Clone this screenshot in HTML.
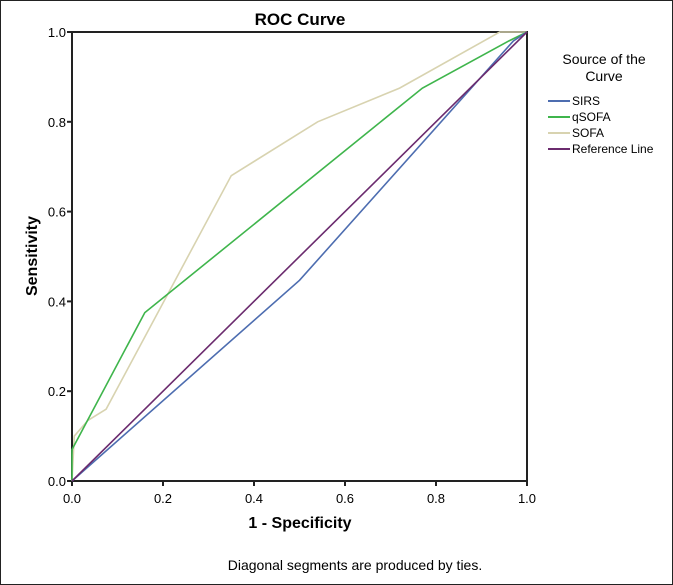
<!DOCTYPE html>
<html><head><meta charset="utf-8"><style>
body{margin:0;background:#fff}
svg{display:block;font-family:"Liberation Sans",sans-serif}
</style></head><body>
<svg width="673" height="585" viewBox="0 0 673 585">
<rect x="0.5" y="0.5" width="672" height="584" fill="#fff" stroke="#222"/>
<text x="300" y="25" font-size="17" font-weight="bold" text-anchor="middle">ROC Curve</text>
<g id="plot"></g>
<text x="300" y="528" font-size="16" font-weight="bold" text-anchor="middle">1 - Specificity</text>
<text transform="translate(37,256) rotate(-90)" font-size="16" font-weight="bold" text-anchor="middle">Sensitivity</text>
<text x="355" y="570" font-size="14" text-anchor="middle">Diagonal segments are produced by ties.</text>
<g>
<text x="604" y="64" font-size="14" text-anchor="middle">Source of the</text>
<text x="604" y="81" font-size="14" text-anchor="middle">Curve</text>
<g id="legend"></g>
</g>
</svg>
<script>
const xTicks=[0,0.2,0.4,0.6,0.8,1.0];
const yTicks=[0,0.2,0.4,0.6,0.8,1.0];
const seriesNames=["SIRS","qSOFA","SOFA","Reference Line"];
const seriesColors=["#4d6db0","#3fb54c","#d8d3b0","#6b2b6e"];
const sirsX=[0,0.5,0.97,1];
const sirsY=[0,0.447,0.98,1];
const qsofaX=[0,0,0.16,0.77,0.96,1];
const qsofaY=[0,0.07,0.375,0.875,0.98,1];
const sofaX=[0,0.005,0.035,0.075,0.35,0.54,0.72,0.94,1];
const sofaY=[0,0.1,0.135,0.16,0.68,0.80,0.875,1.0,1];
const refX=[0,1];
const refY=[0,1];
const X0=72,X1=527,Y0=481,Y1=32;
const sx=v=>X0+v*(X1-X0), sy=v=>Y0-v*(Y0-Y1);
const NS="http://www.w3.org/2000/svg";
const plot=document.getElementById('plot');
function mk(tag,attrs,parent){const e=document.createElementNS(NS,tag);for(const k in attrs)e.setAttribute(k,attrs[k]);parent.appendChild(e);return e;}
const box=mk('rect',{x:X0,y:Y1,width:X1-X0,height:Y0-Y1,fill:'#fff',stroke:'#222','stroke-width':2},plot);


xTicks.forEach(t=>{
 const l=mk('line',{x1:sx(t),x2:sx(t),y1:Y0,y2:Y0+5,stroke:'#222','stroke-width':2},plot);
 
 
 const tx=mk('text',{x:sx(t),y:Y0+22,'font-size':13,'text-anchor':'middle'},plot);
 tx.textContent=t.toFixed(1);
 
 
});
yTicks.forEach(t=>{
 const l=mk('line',{x1:X0-5,x2:X0,y1:sy(t),y2:sy(t),stroke:'#222','stroke-width':2},plot);
 
 
 const tx=mk('text',{x:X0-6,y:sy(t)+5,'font-size':13,'text-anchor':'end'},plot);
 tx.textContent=t.toFixed(1);
 
 
});
const data=[[sirsX,sirsY],[qsofaX,qsofaY],[sofaX,sofaY],[refX,refY]];
[2,1,0,3].forEach(i=>{
 const [xs,ys]=data[i];
 const p=mk('polyline',{points:xs.map((x,j)=>sx(x)+','+sy(ys[j])).join(' '),fill:'none',stroke:seriesColors[i],'stroke-width':1.6},plot);
 
 
});
const lg=document.getElementById('legend');
seriesNames.forEach((n,i)=>{
 const y=101+i*16;
 const l=mk('line',{x1:548,x2:570,y1:y,y2:y,stroke:seriesColors[i],'stroke-width':2},lg);
 
 
 const t=mk('text',{x:572,y:y+4,'font-size':12},lg);
 t.textContent=n;
 
 
});
</script>
</body></html>
